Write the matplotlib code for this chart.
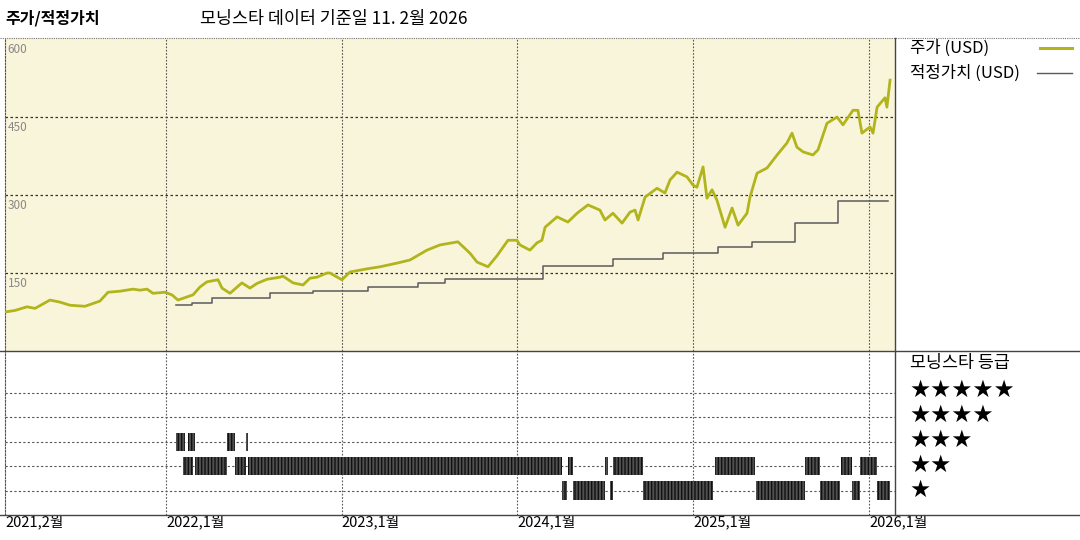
import matplotlib
matplotlib.use("Agg")
import matplotlib.pyplot as plt
from matplotlib.lines import Line2D

plt.rcParams['font.family'] = ['Noto Sans CJK KR', 'DejaVu Sans']

# Données (années décimales)
price_dates = [
    2021.084, 2021.141, 2021.209, 2021.255, 2021.340, 2021.397, 2021.454, 2021.539,
    2021.624, 2021.670, 2021.738, 2021.812, 2021.852, 2021.892, 2021.926, 2021.994,
    2022.034, 2022.068, 2022.154, 2022.193, 2022.233, 2022.296, 2022.319, 2022.364,
    2022.432, 2022.478, 2022.518, 2022.575, 2022.649, 2022.666, 2022.723, 2022.780,
    2022.819, 2022.859, 2022.916, 2022.933, 2023.001, 2023.047, 2023.144, 2023.218,
    2023.314, 2023.388, 2023.485, 2023.559, 2023.661, 2023.730, 2023.770, 2023.832,
    2023.883, 2023.946, 2023.997, 2024.014, 2024.071, 2024.111, 2024.139, 2024.157,
    2024.225, 2024.287, 2024.339, 2024.401, 2024.469, 2024.498, 2024.543, 2024.595,
    2024.640, 2024.669, 2024.686, 2024.726, 2024.794, 2024.839, 2024.868, 2024.908,
    2024.964, 2024.999, 2025.021, 2025.056, 2025.078, 2025.107, 2025.135, 2025.181,
    2025.221, 2025.255, 2025.306, 2025.323, 2025.363, 2025.420, 2025.477, 2025.533,
    2025.562, 2025.590, 2025.625, 2025.681, 2025.710, 2025.761, 2025.818, 2025.852,
    2025.909, 2025.937, 2025.960, 2026.006, 2026.023, 2026.046, 2026.091, 2026.102,
    2026.120,
]
price_values = [
    75, 78, 85, 82, 98, 94, 88, 86,
    96, 113, 115, 119, 117, 119, 111, 113,
    108, 98, 108, 123, 133, 137, 121, 111,
    131, 121, 130, 138, 142, 144, 131, 127,
    140, 142, 150, 150, 137, 152, 158, 162,
    169, 175, 194, 204, 210, 188, 171, 162,
    183, 213, 213, 204, 194, 208, 213, 238,
    258, 248, 265, 281, 271, 252, 265, 246,
    267, 271, 252, 296, 313, 304, 329, 344,
    335, 319, 315, 354, 294, 310, 290, 238,
    275, 242, 265, 296, 342, 352, 377, 400,
    419, 392, 383, 377, 387, 438, 450, 435,
    463, 463, 419, 431, 419, 469, 487, 469,
    521,
]

fair_dates = [
    2022.057, 2022.148, 2022.262, 2022.592, 2022.836, 2023.149, 2023.434, 2023.588,
    2024.145, 2024.543, 2024.828, 2025.141, 2025.334, 2025.579, 2025.824, 2026.108,
]
fair_values = [88, 92, 102, 111, 116, 123, 131, 138, 163, 177, 188, 200, 210, 246, 288, 288]

# Périodes de notation (début, fin) par nombre d'étoiles
rating_3 = [(2022.057, 2022.108), (2022.125, 2022.165), (2022.347, 2022.393),
            (2022.455, 2022.467), (2022.778, 2022.782)]
rating_2 = [(2022.097, 2022.154), (2022.165, 2022.347), (2022.393, 2022.455),
            (2022.467, 2024.253), (2024.287, 2024.316), (2024.498, 2024.515),
            (2024.543, 2024.714), (2025.124, 2025.351), (2025.636, 2025.721),
            (2025.841, 2025.903), (2025.949, 2026.046)]
rating_1 = [(2024.143, 2024.147), (2024.253, 2024.282), (2024.316, 2024.498),
            (2024.526, 2024.543), (2024.714, 2025.112), (2025.332, 2025.336),
            (2025.357, 2025.636), (2025.721, 2025.835), (2025.903, 2025.949),
            (2026.046, 2026.120)]

tick_pos = [2021.084, 2022.0, 2023.0, 2024.0, 2025.0, 2026.0]
tick_labels = ["2021,2월", "2022,1월", "2023,1월", "2024,1월", "2025,1월", "2026,1월"]
y_grid = [150, 300, 450, 600]
x_min, x_max = 2021.084, 2026.148

W, H = 1080, 540
fig = plt.figure(figsize=(W / 100, H / 100), dpi=100, facecolor='white')

def fx(px):
    return px / W

def fy(py):
    return 1 - py / H

ax1 = fig.add_axes([fx(5), fy(351), fx(890), (351 - 38) / H])
ax2 = fig.add_axes([fx(5), fy(515), fx(890), (515 - 351) / H])

# Panneau du cours
ax1.set_facecolor('#f9f5db')
ax1.set_xlim(x_min, x_max)
ax1.set_ylim(0, 602)
for v in y_grid[:-1]:
    ax1.axhline(v, color='#333333', lw=0.9, ls=(0, (2, 2)), zorder=1)
for t in tick_pos[1:]:
    ax1.axvline(t, color='#555555', lw=0.8, ls=(0, (1.5, 1.5)), zorder=1)
for v in [0] + y_grid:
    ax1.annotate(str(v), xy=(x_min, v), xytext=(2, -3), textcoords='offset points',
                 ha='left', va='top', fontsize=8.5, color='#888888', annotation_clip=False)
ax1.plot(fair_dates, fair_values, drawstyle='steps-post', color='#5a5a5a', lw=1.1, zorder=2)
ax1.plot(price_dates, price_values, color='#b2b41c', lw=2.0, zorder=3)
ax1.set_xticks([])
ax1.set_yticks([])
for s in ['top', 'right', 'bottom']:
    ax1.spines[s].set_visible(False)
ax1.spines['left'].set_linestyle((0, (1.5, 1.5)))
ax1.spines['left'].set_color('#555555')

# Panneau des notations
ax2.set_xlim(x_min, x_max)
ax2.set_ylim(0, 6.7)
for r in [1, 2, 3, 4, 5]:
    ax2.axhline(r, color='#555555', lw=0.8, ls=(0, (2, 2)), zorder=1)
for t in tick_pos[1:]:
    ax2.axvline(t, color='#555555', lw=0.8, ls=(0, (1.5, 1.5)), zorder=1)
for stars, segs in [(3, rating_3), (2, rating_2), (1, rating_1)]:
    ax2.broken_barh([(a, b - a) for a, b in segs], (stars - 0.37, 0.74),
                    facecolor='#505050', edgecolor='#111111', hatch='|||||', lw=0, zorder=2)
ax2.set_yticks([])
ax2.set_xticks(tick_pos)
ax2.set_xticklabels(tick_labels, ha='left', fontsize=10.5)
ax2.tick_params(axis='x', length=0, pad=0)
for s in ['top', 'right', 'bottom']:
    ax2.spines[s].set_visible(False)
ax2.spines['left'].set_linestyle((0, (1.5, 1.5)))
ax2.spines['left'].set_color('#555555')

# Cadres
fig.add_artist(Line2D([0, 1], [fy(37.5), fy(37.5)], color='#777777', lw=0.8, ls=(0, (1, 1))))
fig.add_artist(Line2D([0, 1], [fy(351), fy(351)], color='#444444', lw=1.0))
fig.add_artist(Line2D([0, 1], [fy(515), fy(515)], color='#444444', lw=1.0))
fig.add_artist(Line2D([fx(895), fx(895)], [fy(38), fy(515)], color='#444444', lw=1.0))

# Titres
fig.text(fx(5), fy(18), "주가/적정가치", fontsize=11.5, fontweight='bold', va='center')
fig.text(fx(200), fy(19), "모닝스타 데이터 기준일 11. 2월 2026", fontsize=12.5, va='center')

# Légende
fig.text(fx(910), fy(48), "주가 (USD)", fontsize=12, va='center')
fig.add_artist(Line2D([fx(1040), fx(1072)], [fy(48), fy(48)], color='#b2b41c', lw=2.2))
fig.text(fx(910), fy(73), "적정가치 (USD)", fontsize=12, va='center')
fig.add_artist(Line2D([fx(1037), fx(1072)], [fy(73), fy(73)], color='#5a5a5a', lw=1.0))
fig.text(fx(910), fy(363), "모닝스타 등급", fontsize=12.5, va='center')
for i, n in enumerate([5, 4, 3, 2, 1]):
    fig.text(fx(909), fy(390 + 25 * i), "★" * n, fontsize=17, va='center',
             family='DejaVu Sans')

fig.savefig("out.png", dpi=100, facecolor='white')
